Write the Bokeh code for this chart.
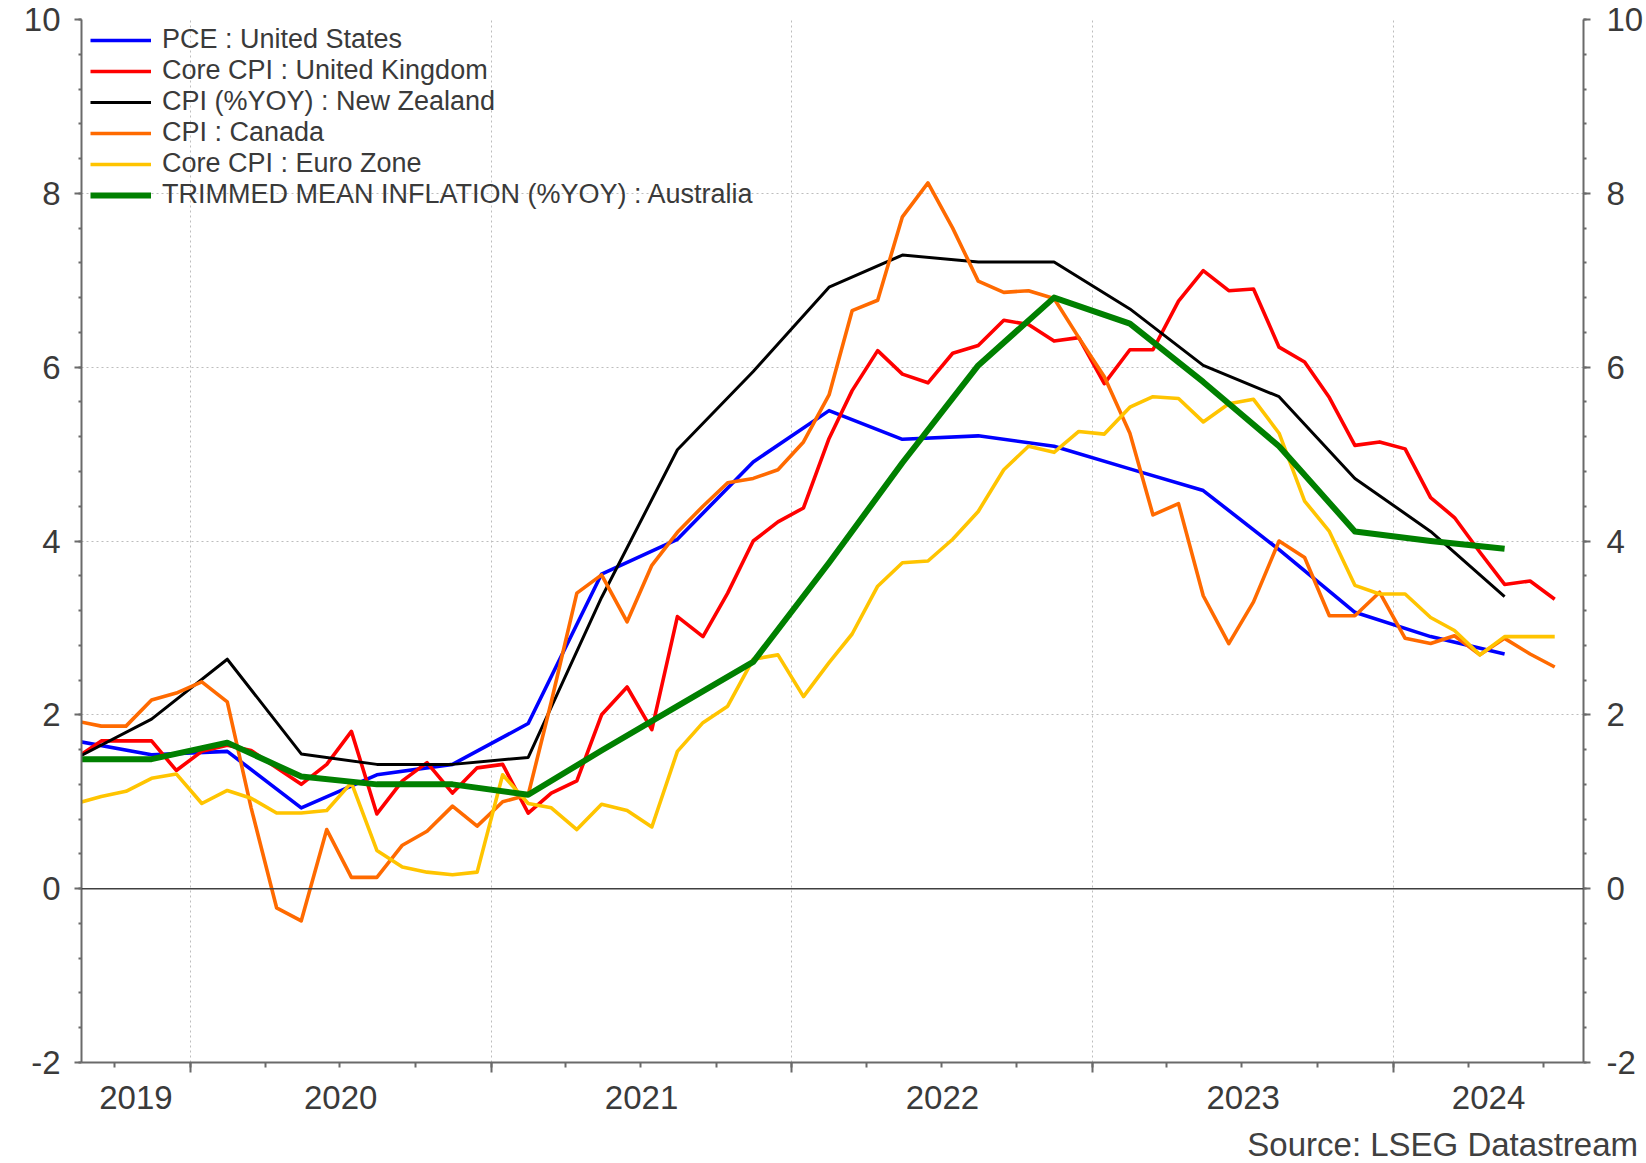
import numpy as np
import pandas as pd
from bokeh.plotting import figure
from bokeh.layouts import column
from bokeh.models import (Range1d, LinearAxis, FixedTicker, SingleIntervalTicker,
                          Legend, LegendItem, Span, Div, CustomJSTickFormatter)
from bokeh.embed import file_html
from bokeh.resources import INLINE

# ---------------- data ----------------
monthly_first = "2019-08-01"      # monthly series: Aug 2019 .. Jul 2024
monthly_count = 60
quarterly_first = "2019-08-01"    # quarterly series: Q3 2019 .. Q2 2024 (mid-quarter)
quarterly_count = 20

x_start = "2019-08-22"
x_end = "2024-08-19"
year_labels = [2019, 2020, 2021, 2022, 2023, 2024]
y_ticks_interval = 2
source_text = "Source: LSEG Datastream"

series_names = [
    "PCE : United States",
    "Core CPI : United Kingdom",
    "CPI (%YOY) : New Zealand",
    "CPI : Canada",
    "Core CPI : Euro Zone",
    "TRIMMED MEAN INFLATION (%YOY) : Australia",
]

pce_us = [1.70, 1.54, 1.58, 0.93, 1.31, 1.43, 1.90, 3.62, 4.02, 4.91,
          5.50, 5.17, 5.21, 5.09, 4.83, 4.58, 3.90, 3.18, 2.90, 2.70]

uk_core_cpi = [1.50, 1.70, 1.70, 1.70, 1.36,
               1.58, 1.65, 1.59, 1.39, 1.20, 1.43, 1.81, 0.86, 1.24, 1.45, 1.10, 1.39,
               1.43, 0.87, 1.10, 1.24, 2.00, 2.32, 1.83, 3.13, 2.90, 3.40, 4.00, 4.22,
               4.38, 5.18, 5.73, 6.19, 5.92, 5.82, 6.16, 6.25, 6.54, 6.49, 6.30, 6.34,
               5.81, 6.20, 6.20, 6.76, 7.11, 6.88, 6.90, 6.23, 6.06, 5.65, 5.10, 5.14,
               5.06, 4.50, 4.27, 3.87, 3.50, 3.54, 3.33]

nz_cpi = [1.50, 1.95, 2.64, 1.55, 1.43, 1.43, 1.51, 3.35, 5.05, 5.95,
          6.92, 7.29, 7.21, 7.21, 6.67, 6.02, 5.66, 4.72, 4.11, 3.36]

canada_cpi = [1.93, 1.87, 1.87, 2.17, 2.25,
              2.38, 2.15, 0.93, -0.22, -0.37, 0.68, 0.13, 0.13, 0.50, 0.66, 0.95, 0.72,
              1.00, 1.08, 2.15, 3.40, 3.61, 3.07, 3.72, 4.10, 4.40, 4.67, 4.72, 4.82,
              5.14, 5.68, 6.65, 6.77, 7.73, 8.12, 7.60, 6.99, 6.86, 6.88, 6.79, 6.34,
              5.89, 5.24, 4.30, 4.43, 3.37, 2.82, 3.30, 4.00, 3.81, 3.14, 3.14, 3.41,
              2.88, 2.82, 2.91, 2.69, 2.88, 2.70, 2.55]

ez_core_cpi = [0.98, 1.06, 1.12, 1.27, 1.32,
               0.98, 1.13, 1.04, 0.87, 0.87, 0.90, 1.22, 0.44, 0.25, 0.19, 0.16, 0.19,
               1.31, 0.98, 0.93, 0.68, 0.97, 0.90, 0.71, 1.58, 1.91, 2.10, 2.64, 2.69,
               2.21, 2.60, 2.93, 3.48, 3.75, 3.77, 4.02, 4.34, 4.82, 5.09, 5.02, 5.26,
               5.23, 5.54, 5.66, 5.64, 5.37, 5.58, 5.63, 5.24, 4.46, 4.11, 3.49, 3.39,
               3.39, 3.12, 2.97, 2.69, 2.90, 2.90, 2.90]

aus_trimmed_mean = [1.49, 1.49, 1.68, 1.29, 1.20, 1.20, 1.08, 1.59, 2.10, 2.61,
                    3.75, 4.90, 6.02, 6.80, 6.50, 5.83, 5.09, 4.11, 4.00, 3.91]

colors = ["#0000FF", "#FF0000", "#000000", "#FF6A00", "#FFC400", "#008000"]
widths = [3.6, 3.6, 3.0, 3.6, 3.6, 6.0]


# ---------------- helpers ----------------
def dec_year(dates):
    idx = pd.DatetimeIndex(dates)
    days = np.where(idx.is_leap_year, 366.0, 365.0)
    return np.asarray(idx.year, dtype=float) + (np.asarray(idx.dayofyear, dtype=float) - 1.0) / days


monthly_x = dec_year(pd.date_range(monthly_first, periods=monthly_count, freq="MS") + pd.Timedelta(days=14))
quarterly_x = dec_year(pd.date_range(quarterly_first, periods=quarterly_count, freq="3MS") + pd.Timedelta(days=14))

x0 = float(dec_year([x_start])[0])
x1 = float(dec_year([x_end])[0])
year_ticks = [float(y) for y in year_labels if x0 < y < x1]
quarter_ticks = [float(v) for v in dec_year(pd.date_range(x_start, x_end, freq="QS"))]
label_ticks = [(max(float(y), x0) + min(float(y + 1), x1)) / 2.0 for y in year_labels]

FONT = "Liberation Sans"
TXT = "#3a3a3a"
AXC = "#6a6a6a"

W = 1646
PLOT_H = 1127
NOTE_H = 36

p = figure(width=W, height=PLOT_H,
           x_range=Range1d(x0, x1), y_range=Range1d(-2, 10),
           output_backend="svg", toolbar_location=None,
           min_border_left=81, min_border_right=62, min_border_top=19, min_border_bottom=65)
p.outline_line_color = None
p.background_fill_color = "white"
p.border_fill_color = "white"

# bottom axis: ticks only (year boundaries long, quarters short)
xa = p.xaxis[0]
xa.ticker = FixedTicker(ticks=year_ticks, minor_ticks=quarter_ticks)
xa.formatter = CustomJSTickFormatter(code="return '';")
xa.major_label_text_font_size = "2px"
xa.major_label_standoff = 0
xa.axis_line_color = AXC
xa.axis_line_width = 2
xa.major_tick_line_color = AXC
xa.major_tick_line_width = 2
xa.major_tick_out = 10
xa.major_tick_in = 0
xa.minor_tick_line_color = AXC
xa.minor_tick_line_width = 2
xa.minor_tick_out = 5
xa.minor_tick_in = 0

# bottom axis: year labels centred in each year
lab_axis = LinearAxis(ticker=FixedTicker(ticks=label_ticks, minor_ticks=[]),
                      formatter=CustomJSTickFormatter(code="return Math.floor(tick + 1e-9).toString();"),
                      axis_line_color=None, major_tick_line_color=None, minor_tick_line_color=None,
                      major_tick_out=0, major_tick_in=0, minor_tick_out=0, minor_tick_in=0,
                      major_label_text_font=FONT, major_label_text_font_size="33px",
                      major_label_text_color=TXT, major_label_standoff=13)
p.add_layout(lab_axis, "below")


# left / right y axes
def style_y(ax, standoff):
    ax.ticker = SingleIntervalTicker(interval=y_ticks_interval, num_minor_ticks=5)
    ax.formatter = CustomJSTickFormatter(code="return tick.toFixed(0);")
    ax.axis_line_color = AXC
    ax.axis_line_width = 2
    ax.major_tick_line_color = AXC
    ax.major_tick_line_width = 2
    ax.major_tick_out = 7
    ax.major_tick_in = 0
    ax.minor_tick_line_color = AXC
    ax.minor_tick_line_width = 2
    ax.minor_tick_out = 3
    ax.minor_tick_in = 0
    ax.major_label_text_font = FONT
    ax.major_label_text_font_size = "33px"
    ax.major_label_text_color = TXT
    ax.major_label_standoff = standoff


style_y(p.yaxis[0], 14)
ry = LinearAxis()
style_y(ry, 16)
p.add_layout(ry, "right")

# grids
p.xgrid.grid_line_color = "#bdbdbd"
p.xgrid.grid_line_dash = "2 3"
p.xgrid.grid_line_width = 1
p.ygrid.ticker = SingleIntervalTicker(interval=y_ticks_interval)
p.ygrid.grid_line_color = "#bdbdbd"
p.ygrid.grid_line_dash = "2 3"
p.ygrid.grid_line_width = 1

p.add_layout(Span(location=0, dimension="width", line_color="#404040", line_width=1.5))

# series
xs = [quarterly_x, monthly_x, quarterly_x, monthly_x, monthly_x, quarterly_x]
ys = [pce_us, uk_core_cpi, nz_cpi, canada_cpi, ez_core_cpi, aus_trimmed_mean]
items = []
for name, x, y, c, w in zip(series_names, xs, ys, colors, widths):
    r = p.line(list(x), y, line_color=c, line_width=w, line_join="round")
    items.append(LegendItem(label=name, renderers=[r]))

legend = Legend(items=items, location=(9, 852), margin=0, padding=0, spacing=0,
                glyph_width=61, glyph_height=28, label_height=28, label_standoff=11,
                label_text_font=FONT, label_text_font_size="27px", label_text_color=TXT,
                background_fill_alpha=0, border_line_color=None)
p.add_layout(legend, "center")

# source note under the chart, right-aligned
note = Div(text=source_text, width=W - 8, height=NOTE_H, margin=(0, 0, 0, 0),
           styles={"font-family": FONT, "font-size": "33px", "color": "#404040",
                   "text-align": "right", "line-height": f"{NOTE_H}px",
                   "white-space": "nowrap", "overflow": "hidden"})

layout = column(p, note, spacing=0)

open("out.html", "w").write(file_html(layout, INLINE))
